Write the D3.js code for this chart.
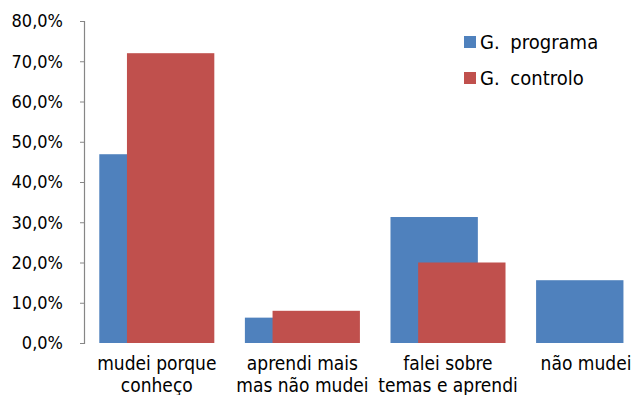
<!DOCTYPE html>
<html>
<head>
<meta charset="utf-8">
<script src="https://cdn.jsdelivr.net/npm/d3@7"></script>
<style>
  html, body { margin: 0; padding: 0; background: #fff; }
  svg { display: block; }
  text { font-family: "DejaVu Sans Condensed", "DejaVu Sans", sans-serif; font-stretch: condensed; }
</style>
</head>
<body>
<script>
const categories = ["mudei porque conheço", "aprendi mais mas não mudei", "falei sobre temas e aprendi", "não mudei"];
const categoryLines = [["mudei porque", "conheço"], ["aprendi mais", "mas não mudei"], ["falei sobre", "temas e aprendi"], ["não mudei"]];
const seriesNames = ["G. programa", "G. controlo"];
const programa = [46.9, 6.3, 31.3, 15.6];
const controlo = [72.0, 8.0, 20.0, 0];
const yTicks = [0, 10, 20, 30, 40, 50, 60, 70, 80];
const colors = ["#4F81BD", "#C0504D"];

const W = 636, H = 395;
const svg = d3.select("body").append("svg").attr("width", W).attr("height", H);

const left = 84, bandW = 145.6;
const x = d3.scaleBand().domain(categories).range([left, left + bandW * categories.length]).padding(0);
const y = d3.scaleLinear().domain([0, 80]).range([343, 21]);

const bw = x.bandwidth();
const barW = bw * 0.6, offset = bw * 0.19, gap = (bw - barW - offset) / 2;

const series = [programa, controlo];
series.forEach((vals, si) => {
  svg.append("g").selectAll("rect").data(categories).join("rect")
    .attr("x", c => x(c) + gap + si * offset)
    .attr("y", (c, i) => y(vals[i]))
    .attr("width", barW)
    .attr("height", (c, i) => y(0) - y(vals[i]))
    .attr("fill", colors[si]);
});

// Y axis
const fmt = v => v.toFixed(1).replace(".", ",") + "%";
const yAxis = d3.axisLeft(y).tickValues(yTicks).tickFormat(fmt).tickSize(4).tickSizeOuter(4).tickPadding(17);
const gy = svg.append("g").attr("transform", `translate(${left},0)`).call(yAxis);
gy.select(".domain").attr("stroke", "#868686").attr("stroke-width", 1.2);
gy.selectAll(".tick line").attr("stroke", "#868686");
gy.selectAll(".tick text").attr("font-size", 18).attr("fill", "#000")
  .style("font-family", '"DejaVu Sans Condensed", "DejaVu Sans", sans-serif');

// X labels
const xl = svg.append("g");
categories.forEach((c, i) => {
  const cx = Math.min(x(c) + bw / 2, W - 50);
  const t = xl.append("text")
    .attr("x", cx)
    .attr("y", 370)
    .attr("text-anchor", "middle")
    .attr("font-size", 19)
    .attr("fill", "#000");
  categoryLines[i].forEach((ln, k) => {
    t.append("tspan").attr("x", cx).attr("dy", k === 0 ? 0 : 22).text(ln);
  });
});

// Legend
const lg = svg.append("g");
seriesNames.forEach((n, i) => {
  const yy = 42 + i * 36;
  lg.append("rect").attr("x", 464).attr("y", yy - 6).attr("width", 12).attr("height", 12).attr("fill", colors[i]);
  lg.append("text").attr("x", 480).attr("y", yy).attr("dy", "0.35em")
    .attr("font-size", 20).attr("word-spacing", 5).attr("fill", "#000").text(n);
});
</script>
</body>
</html>
